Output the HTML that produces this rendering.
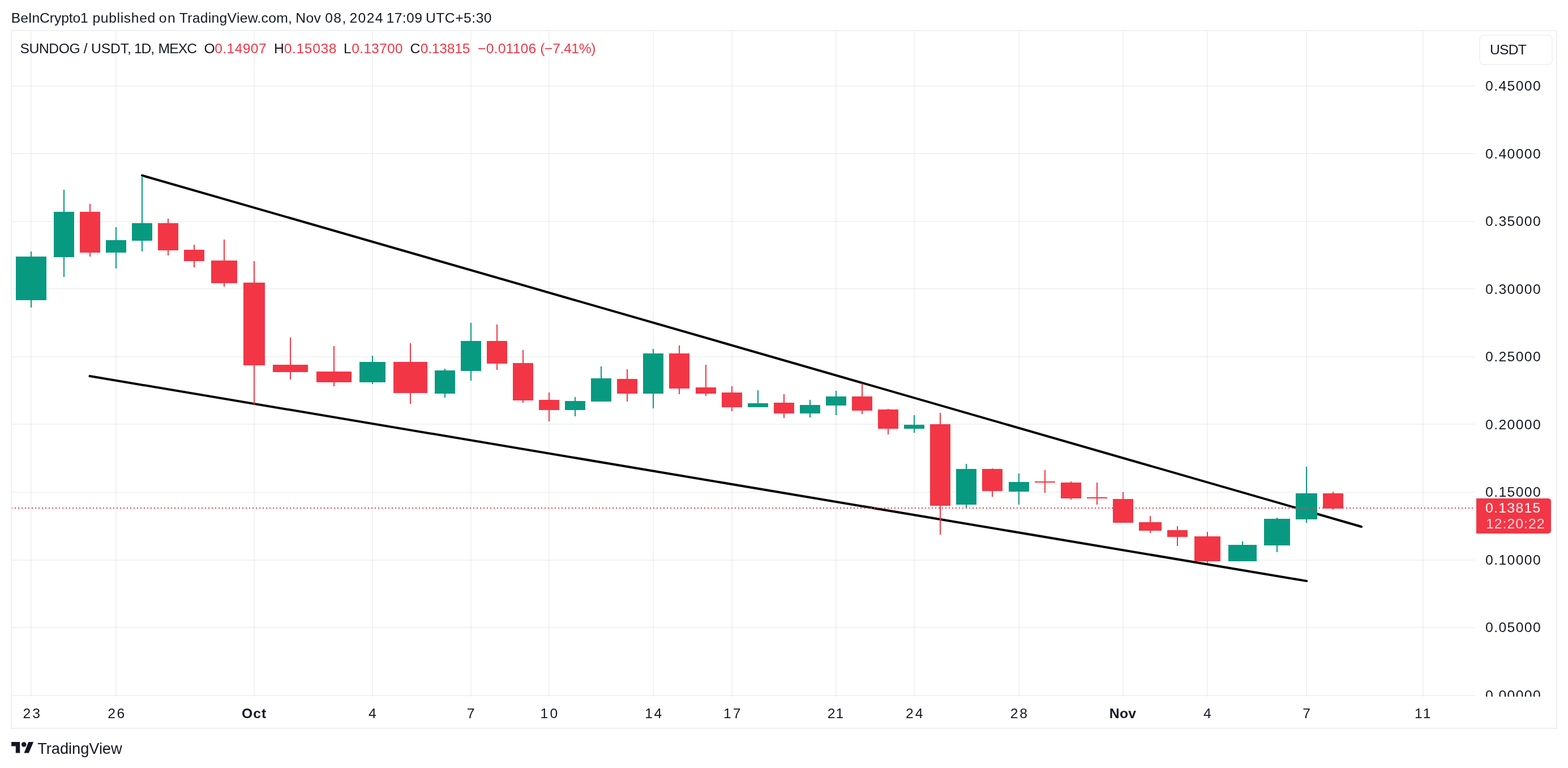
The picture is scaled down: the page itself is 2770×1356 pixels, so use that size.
<!DOCTYPE html>
<html lang="en">
<head>
<meta charset="utf-8">
<title>SUNDOG / USDT, 1D, MEXC</title>
<style>
html,body{margin:0;padding:0;background:#fff;}
body{width:2770px;height:1356px;position:relative;overflow:hidden;font-family:"Liberation Sans",Arial,Helvetica,sans-serif;}
.t{position:absolute;white-space:pre;margin:0;padding:0;}
.clip{position:absolute;overflow:hidden;}
</style>
</head>
<body>
<svg width="2770" height="1356" viewBox="0 0 2770 1356" style="position:absolute;left:0;top:0">
<g fill="rgba(40,50,50,0.06)" shape-rendering="crispEdges">
<rect x="54" y="55" width="2" height="1175"/>
<rect x="204" y="55" width="2" height="1175"/>
<rect x="448" y="55" width="2" height="1175"/>
<rect x="657" y="55" width="2" height="1175"/>
<rect x="831" y="55" width="2" height="1175"/>
<rect x="969" y="55" width="2" height="1175"/>
<rect x="1153" y="55" width="2" height="1175"/>
<rect x="1292" y="55" width="2" height="1175"/>
<rect x="1476" y="55" width="2" height="1175"/>
<rect x="1614" y="55" width="2" height="1175"/>
<rect x="1799" y="55" width="2" height="1175"/>
<rect x="1983" y="55" width="2" height="1175"/>
<rect x="2132" y="55" width="2" height="1175"/>
<rect x="2307" y="55" width="2" height="1175"/>
<rect x="2513" y="55" width="2" height="1175"/>
<rect x="21" y="151" width="2585" height="2"/>
<rect x="21" y="270" width="2585" height="2"/>
<rect x="21" y="390" width="2585" height="2"/>
<rect x="21" y="509" width="2585" height="2"/>
<rect x="21" y="629" width="2585" height="2"/>
<rect x="21" y="748" width="2585" height="2"/>
<rect x="21" y="868" width="2585" height="2"/>
<rect x="21" y="988" width="2585" height="2"/>
<rect x="21" y="1107" width="2585" height="2"/>
<rect x="21" y="1227" width="2585" height="2"/>
</g>
<g stroke="#000" stroke-width="4" stroke-linecap="round" fill="none">
<line x1="251" y1="309.7" x2="2405.2" y2="930"/>
<line x1="158.5" y1="664" x2="2308.3" y2="1025.9"/>
</g>
<g fill="#089981" shape-rendering="crispEdges"><rect x="54" y="444" width="2" height="99"/><rect x="28" y="453" width="54" height="77"/></g>
<g fill="#089981" shape-rendering="crispEdges"><rect x="112" y="335" width="2" height="154"/><rect x="95" y="374" width="36" height="80"/></g>
<g fill="#f23645" shape-rendering="crispEdges"><rect x="158" y="360" width="2" height="93"/><rect x="141" y="374" width="36" height="72"/></g>
<g fill="#089981" shape-rendering="crispEdges"><rect x="204" y="401" width="2" height="73"/><rect x="187" y="424" width="36" height="22"/></g>
<g fill="#089981" shape-rendering="crispEdges"><rect x="250" y="311" width="2" height="133"/><rect x="233" y="394" width="36" height="31"/></g>
<g fill="#f23645" shape-rendering="crispEdges"><rect x="296" y="386" width="2" height="65"/><rect x="279" y="394" width="36" height="48"/></g>
<g fill="#f23645" shape-rendering="crispEdges"><rect x="342" y="432" width="2" height="40"/><rect x="325" y="441" width="36" height="20"/></g>
<g fill="#f23645" shape-rendering="crispEdges"><rect x="395" y="423" width="2" height="83"/><rect x="373" y="460" width="46" height="40"/></g>
<g fill="#f23645" shape-rendering="crispEdges"><rect x="448" y="461" width="2" height="253"/><rect x="430" y="499" width="38" height="146"/></g>
<g fill="#f23645" shape-rendering="crispEdges"><rect x="512" y="596" width="2" height="74"/><rect x="482" y="644" width="62" height="13"/></g>
<g fill="#f23645" shape-rendering="crispEdges"><rect x="589" y="611" width="2" height="71"/><rect x="559" y="656" width="62" height="19"/></g>
<g fill="#089981" shape-rendering="crispEdges"><rect x="657" y="628" width="2" height="50"/><rect x="635" y="639" width="46" height="36"/></g>
<g fill="#f23645" shape-rendering="crispEdges"><rect x="724" y="606" width="2" height="107"/><rect x="695" y="639" width="60" height="55"/></g>
<g fill="#089981" shape-rendering="crispEdges"><rect x="785" y="651" width="2" height="51"/><rect x="768" y="654" width="36" height="41"/></g>
<g fill="#089981" shape-rendering="crispEdges"><rect x="831" y="570" width="2" height="102"/><rect x="814" y="602" width="36" height="53"/></g>
<g fill="#f23645" shape-rendering="crispEdges"><rect x="877" y="573" width="2" height="80"/><rect x="860" y="602" width="36" height="40"/></g>
<g fill="#f23645" shape-rendering="crispEdges"><rect x="923" y="618" width="2" height="93"/><rect x="906" y="641" width="36" height="66"/></g>
<g fill="#f23645" shape-rendering="crispEdges"><rect x="969" y="693" width="2" height="51"/><rect x="952" y="706" width="36" height="18"/></g>
<g fill="#089981" shape-rendering="crispEdges"><rect x="1015" y="701" width="2" height="34"/><rect x="998" y="708" width="36" height="16"/></g>
<g fill="#089981" shape-rendering="crispEdges"><rect x="1061" y="647" width="2" height="62"/><rect x="1044" y="668" width="36" height="41"/></g>
<g fill="#f23645" shape-rendering="crispEdges"><rect x="1107" y="652" width="2" height="57"/><rect x="1090" y="669" width="36" height="26"/></g>
<g fill="#089981" shape-rendering="crispEdges"><rect x="1153" y="616" width="2" height="105"/><rect x="1136" y="624" width="36" height="71"/></g>
<g fill="#f23645" shape-rendering="crispEdges"><rect x="1199" y="610" width="2" height="86"/><rect x="1182" y="624" width="36" height="62"/></g>
<g fill="#f23645" shape-rendering="crispEdges"><rect x="1246" y="644" width="2" height="55"/><rect x="1229" y="684" width="36" height="11"/></g>
<g fill="#f23645" shape-rendering="crispEdges"><rect x="1292" y="682" width="2" height="44"/><rect x="1275" y="693" width="36" height="26"/></g>
<g fill="#089981" shape-rendering="crispEdges"><rect x="1338" y="689" width="2" height="30"/><rect x="1321" y="712" width="36" height="7"/></g>
<g fill="#f23645" shape-rendering="crispEdges"><rect x="1384" y="696" width="2" height="42"/><rect x="1367" y="711" width="36" height="19"/></g>
<g fill="#089981" shape-rendering="crispEdges"><rect x="1430" y="706" width="2" height="31"/><rect x="1413" y="715" width="36" height="15"/></g>
<g fill="#089981" shape-rendering="crispEdges"><rect x="1476" y="690" width="2" height="43"/><rect x="1459" y="700" width="36" height="16"/></g>
<g fill="#f23645" shape-rendering="crispEdges"><rect x="1522" y="677" width="2" height="54"/><rect x="1505" y="700" width="36" height="25"/></g>
<g fill="#f23645" shape-rendering="crispEdges"><rect x="1568" y="722" width="2" height="45"/><rect x="1551" y="723" width="36" height="34"/></g>
<g fill="#089981" shape-rendering="crispEdges"><rect x="1614" y="733" width="2" height="31"/><rect x="1597" y="750" width="36" height="7"/></g>
<g fill="#f23645" shape-rendering="crispEdges"><rect x="1660" y="729" width="2" height="215"/><rect x="1643" y="749" width="36" height="144"/></g>
<g fill="#089981" shape-rendering="crispEdges"><rect x="1706" y="819" width="2" height="78"/><rect x="1689" y="828" width="36" height="63"/></g>
<g fill="#f23645" shape-rendering="crispEdges"><rect x="1752" y="827" width="2" height="50"/><rect x="1735" y="828" width="36" height="39"/></g>
<g fill="#089981" shape-rendering="crispEdges"><rect x="1799" y="836" width="2" height="55"/><rect x="1782" y="851" width="36" height="17"/></g>
<g fill="#f23645" shape-rendering="crispEdges"><rect x="1845" y="830" width="2" height="40"/><rect x="1828" y="850" width="36" height="2"/></g>
<g fill="#f23645" shape-rendering="crispEdges"><rect x="1891" y="850" width="2" height="32"/><rect x="1874" y="852" width="36" height="28"/></g>
<g fill="#f23645" shape-rendering="crispEdges"><rect x="1937" y="852" width="2" height="39"/><rect x="1920" y="878" width="36" height="2"/></g>
<g fill="#f23645" shape-rendering="crispEdges"><rect x="1983" y="869" width="2" height="54"/><rect x="1966" y="881" width="36" height="42"/></g>
<g fill="#f23645" shape-rendering="crispEdges"><rect x="2031" y="911" width="2" height="30"/><rect x="2012" y="922" width="40" height="15"/></g>
<g fill="#f23645" shape-rendering="crispEdges"><rect x="2079" y="929" width="2" height="35"/><rect x="2062" y="936" width="36" height="12"/></g>
<g fill="#f23645" shape-rendering="crispEdges"><rect x="2132" y="939" width="2" height="55"/><rect x="2110" y="947" width="46" height="44"/></g>
<g fill="#089981" shape-rendering="crispEdges"><rect x="2194" y="956" width="2" height="35"/><rect x="2170" y="962" width="50" height="29"/></g>
<g fill="#089981" shape-rendering="crispEdges"><rect x="2255" y="914" width="2" height="61"/><rect x="2233" y="916" width="46" height="47"/></g>
<g fill="#089981" shape-rendering="crispEdges"><rect x="2307" y="824" width="2" height="99"/><rect x="2289" y="871" width="38" height="46"/></g>
<g fill="#f23645" shape-rendering="crispEdges"><rect x="2354" y="868" width="2" height="32"/><rect x="2337" y="871" width="36" height="27"/></g>
<line x1="20" y1="897" x2="2606" y2="897" stroke="#f23645" stroke-width="2" stroke-dasharray="2 4" shape-rendering="crispEdges"/>
<path d="M20 54H2750V1286H20Z" fill="none" stroke="#eef0f5" stroke-width="2" shape-rendering="crispEdges"/>
<path d="M2608 880H2735a5 5 0 0 1 5 5V937a5 5 0 0 1 -5 5H2608Z" fill="#f23645"/>
<rect x="2614" y="62" width="128" height="52" rx="7" ry="7" fill="#fff" stroke="#eef0f5" stroke-width="1.7"/>
<g fill="#131722"><path d="M20.1 1310.1H35.2V1329.5H27.8V1317.6H20.1Z"/><circle cx="42.2" cy="1314.5" r="4.35"/><path d="M50.4 1310.1H59.2L50.8 1329.5H42.5Z"/></g>
</svg>
<div class="t" style="left:19.86px;top:17px;font-size:24.7px;line-height:30px;color:#131722;"><span style="letter-spacing:-0.13px;">BeInCrypto1</span> <span style="margin-left:0.98px;letter-spacing:0.63px;">published</span> <span style="margin-left:-1.03px;letter-spacing:1.50px;">on</span> <span style="margin-left:-1.30px;letter-spacing:0.29px;">TradingView.com,</span> <span style="margin-left:-0.80px;letter-spacing:0.35px;">Nov</span> <span style="margin-left:0.03px;letter-spacing:1.40px;">08,</span> <span style="margin-left:-2.11px;letter-spacing:1.42px;">2024</span> <span style="margin-left:-2.40px;letter-spacing:0.42px;">17:09</span> <span style="margin-left:-1.37px;letter-spacing:0.50px;">UTC+5:30</span></div>
<div class="t" style="left:35.59px;top:71px;font-size:24.7px;line-height:30px;color:#131722;"><span style="letter-spacing:-0.46px;">SUNDOG</span> <span style="margin-left:-0.32px;">/</span> <span style="margin-left:-0.52px;letter-spacing:-0.09px;">USDT,</span> <span style="margin-left:-1.61px;letter-spacing:-1.17px;">1D,</span> <span style="margin-left:0.70px;letter-spacing:-0.91px;">MEXC</span> <span style="margin-left:6.51px;">O</span><span style="margin-left:-0.51px;letter-spacing:0.36px;color:#f23645;">0.14907</span> <span style="margin-left:6.00px;">H</span><span style="margin-left:-0.03px;letter-spacing:0.60px;color:#f23645;">0.15038</span> <span style="margin-left:4.85px;">L</span><span style="margin-left:0.56px;letter-spacing:0.19px;color:#f23645;">0.13700</span> <span style="margin-left:5.82px;">C</span><span style="margin-left:0.55px;letter-spacing:-0.28px;color:#f23645;">0.13815</span> <span style="margin-left:7.12px;letter-spacing:0.19px;color:#f23645;">−0.01106</span> <span style="margin-left:0.01px;letter-spacing:-0.38px;color:#f23645;">(−7.41%)</span></div>
<div class="t" style="left:2632.02px;top:73px;font-size:24.7px;line-height:30px;color:#131722;"><span style="letter-spacing:-0.83px;">USDT</span></div>
<div class="t" style="left:2624.04px;top:137px;font-size:24.7px;line-height:30px;color:#131722;"><span style="letter-spacing:1.40px;">0.45000</span></div>
<div class="t" style="left:2624.04px;top:257px;font-size:24.7px;line-height:30px;color:#131722;"><span style="letter-spacing:1.40px;">0.40000</span></div>
<div class="t" style="left:2624.04px;top:376px;font-size:24.7px;line-height:30px;color:#131722;"><span style="letter-spacing:1.40px;">0.35000</span></div>
<div class="t" style="left:2624.04px;top:496px;font-size:24.7px;line-height:30px;color:#131722;"><span style="letter-spacing:1.40px;">0.30000</span></div>
<div class="t" style="left:2624.04px;top:615px;font-size:24.7px;line-height:30px;color:#131722;"><span style="letter-spacing:1.40px;">0.25000</span></div>
<div class="t" style="left:2624.04px;top:735px;font-size:24.7px;line-height:30px;color:#131722;"><span style="letter-spacing:1.40px;">0.20000</span></div>
<div class="t" style="left:2624.04px;top:854px;font-size:24.7px;line-height:30px;color:#131722;"><span style="letter-spacing:1.40px;">0.15000</span></div>
<div class="t" style="left:2624.04px;top:974px;font-size:24.7px;line-height:30px;color:#131722;"><span style="letter-spacing:1.40px;">0.10000</span></div>
<div class="t" style="left:2624.04px;top:1093px;font-size:24.7px;line-height:30px;color:#131722;"><span style="letter-spacing:1.40px;">0.05000</span></div>
<div class="clip" style="left:2624.04px;top:1213px;width:130px;height:17px;"><div class="t" style="left:0;top:0;font-size:24.7px;line-height:30px;color:#131722;"><span style="letter-spacing:1.40px;">0.00000</span></div></div>
<div class="t" style="left:2623.98px;top:882px;font-size:24.7px;line-height:30px;color:#ffffff;"><span style="letter-spacing:1.34px;">0.13815</span></div>
<div class="t" style="left:2624.89px;top:910px;font-size:24.7px;line-height:30px;color:rgba(255,255,255,0.82);"><span style="letter-spacing:1.08px;">12:20:22</span></div>
<div class="t" style="left:40.38px;top:1245px;font-size:24.7px;line-height:30px;color:#131722;"><span style="letter-spacing:3.26px;">23</span></div>
<div class="t" style="left:190.31px;top:1245px;font-size:24.7px;line-height:30px;color:#131722;"><span style="letter-spacing:2.45px;">26</span></div>
<div class="t" style="left:426.90px;top:1245px;font-size:24.7px;line-height:30px;color:#131722;font-weight:700;"><span style="letter-spacing:1.15px;">Oct</span></div>
<div class="t" style="left:651.00px;top:1245px;font-size:24.7px;line-height:30px;color:#131722;">4</div>
<div class="t" style="left:824.73px;top:1245px;font-size:24.7px;line-height:30px;color:#131722;">7</div>
<div class="t" style="left:954.60px;top:1245px;font-size:24.7px;line-height:30px;color:#131722;"><span style="letter-spacing:3.22px;">10</span></div>
<div class="t" style="left:1139.30px;top:1245px;font-size:24.7px;line-height:30px;color:#131722;"><span style="letter-spacing:2.35px;">14</span></div>
<div class="t" style="left:1277.92px;top:1245px;font-size:24.7px;line-height:30px;color:#131722;"><span style="letter-spacing:2.99px;">17</span></div>
<div class="t" style="left:1461.83px;top:1245px;font-size:24.7px;line-height:30px;color:#131722;"><span style="letter-spacing:0.97px;">21</span></div>
<div class="t" style="left:1599.97px;top:1245px;font-size:24.7px;line-height:30px;color:#131722;"><span style="letter-spacing:3.07px;">24</span></div>
<div class="t" style="left:1784.79px;top:1245px;font-size:24.7px;line-height:30px;color:#131722;"><span style="letter-spacing:2.77px;">28</span></div>
<div class="t" style="left:1959.85px;top:1245px;font-size:24.7px;line-height:30px;color:#131722;font-weight:700;"><span style="letter-spacing:0.30px;">Nov</span></div>
<div class="t" style="left:2126.04px;top:1245px;font-size:24.7px;line-height:30px;color:#131722;">4</div>
<div class="t" style="left:2301.13px;top:1245px;font-size:24.7px;line-height:30px;color:#131722;">7</div>
<div class="t" style="left:2498.92px;top:1245px;font-size:24.7px;line-height:30px;color:#131722;"><span style="letter-spacing:3.06px;">11</span></div>
<div class="t" style="left:66.27px;top:1305px;font-size:27.3px;line-height:33px;color:#131722;"><span style="letter-spacing:-0.08px;">TradingView</span></div>

</body>
</html>
